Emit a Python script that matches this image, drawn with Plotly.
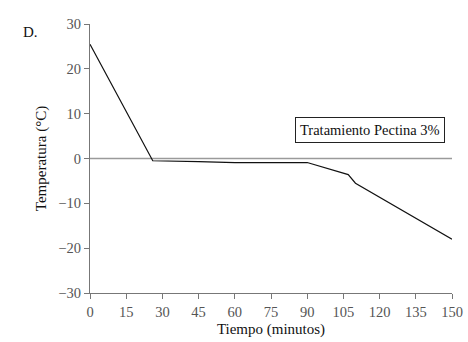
import plotly.graph_objects as go

tiempo = [0, 26, 45, 60, 90, 100, 107, 110, 150]
temperatura = [25.5, -0.5, -0.7, -0.9, -0.9, -2.5, -3.6, -5.5, -18]
x_ticks = [0, 15, 30, 45, 60, 75, 90, 105, 120, 135, 150]
y_ticks = [-30, -20, -10, 0, 10, 20, 30]
y_labels = ["\u221230", "\u221220", "\u221210", "0", "10", "20", "30"]

FONT = "Liberation Serif"

fig = go.Figure()
fig.add_trace(go.Scatter(x=[0, 150], y=[0, 0], mode="lines",
                         line=dict(color="#9a9a9a", width=1.5), hoverinfo="skip"))
fig.add_trace(go.Scatter(x=tiempo, y=temperatura, mode="lines",
                         line=dict(color="#111111", width=1.2)))

fig.update_layout(
    width=468, height=342,
    margin=dict(l=90, r=16, t=24, b=49, autoexpand=False),
    paper_bgcolor="white", plot_bgcolor="white",
    showlegend=False,
    font=dict(family=FONT, size=14, color="#000"),
    xaxis=dict(range=[0, 150], tickvals=x_ticks, showgrid=False, zeroline=False,
               showline=True, linecolor="#777", linewidth=1.2, automargin=False,
               ticks="outside", ticklen=5, tickcolor="#777",
               tickfont=dict(family=FONT, size=14.5, color="#555"),
               title=dict(text="Tiempo (minutos)", font=dict(family=FONT, size=15, color="#111"), standoff=4)),
    yaxis=dict(range=[-30, 30], tickvals=y_ticks, ticktext=y_labels,
               showgrid=False, zeroline=False, automargin=False,
               showline=True, linecolor="#777", linewidth=1.2,
               ticks="outside", ticklen=5, tickcolor="#777",
               tickfont=dict(family=FONT, size=14.5, color="#555"),
               title=dict(text="Temperatura (°C)", font=dict(family=FONT, size=15, color="#111"), standoff=8)),
    annotations=[
        dict(text="Tratamiento Pectina 3%", xref="paper", yref="paper",
             x=0.773, y=0.606, xanchor="center", yanchor="middle",
             showarrow=False, bordercolor="#222", borderwidth=1,
             borderpad=4, bgcolor="white", font=dict(family=FONT, size=14.5, color="#111")),
        dict(text="D.", xref="paper", yref="paper", x=-0.19, y=0.97,
             xanchor="left", yanchor="middle",
             showarrow=False, font=dict(family=FONT, size=15, color="#111")),
    ],
)
fig.write_html("out.html", config={"displayModeBar": False},
               post_script="document.body.style.margin='0px';")
